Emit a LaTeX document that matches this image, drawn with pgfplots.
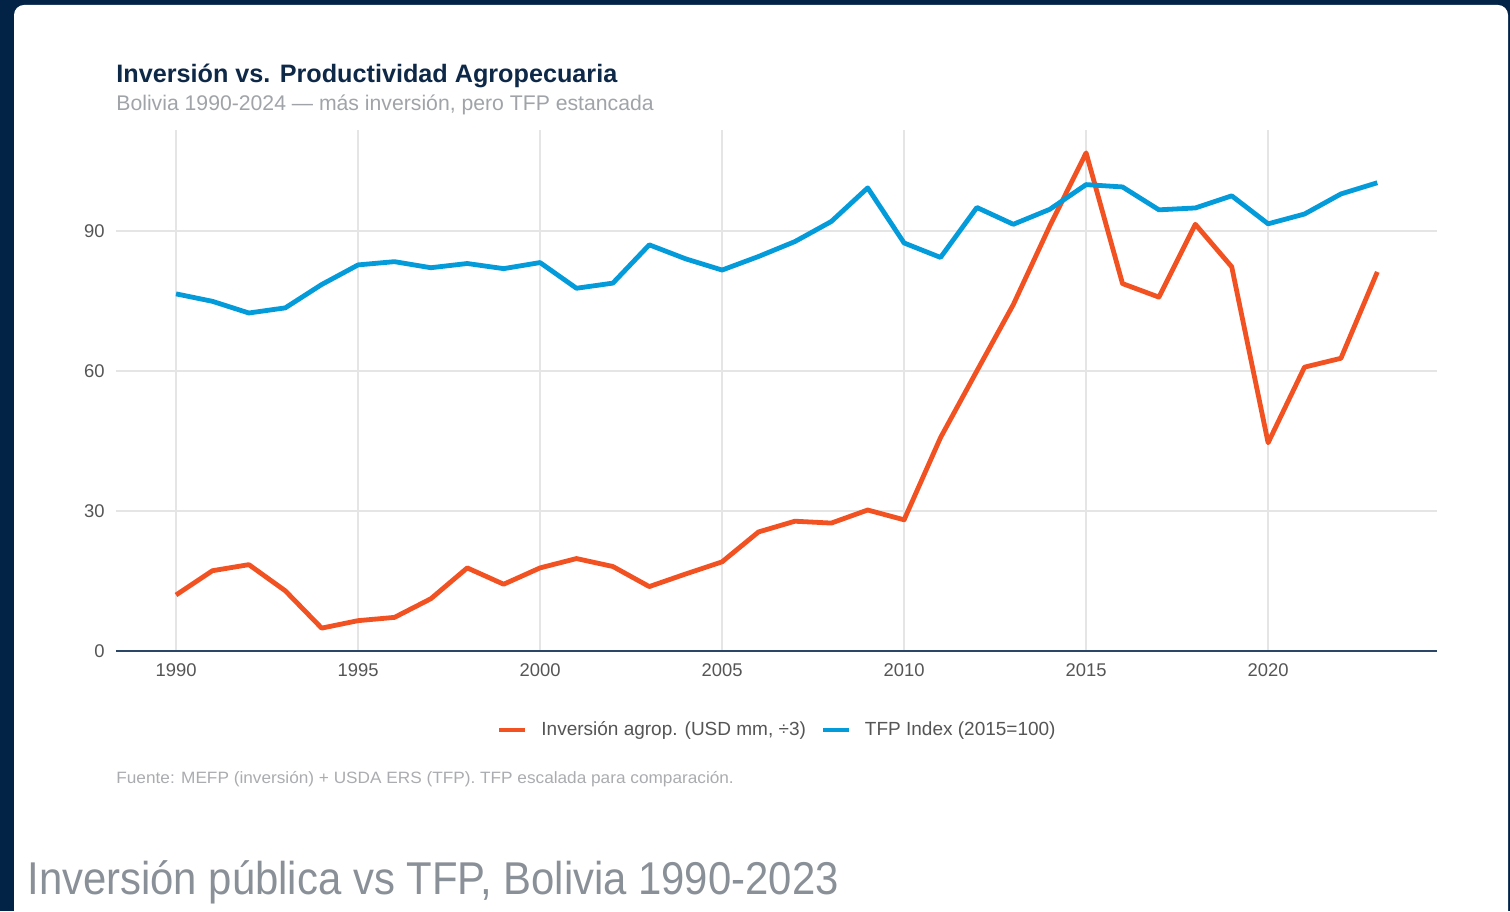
\documentclass[border=0pt]{standalone}
\usepackage{fontspec}
\setmainfont{Liberation Sans}
\usepackage{graphicx}
\usepackage{pgfplots}
\pgfplotsset{compat=1.18}
\definecolor{navybg}{RGB}{2,34,70}
\definecolor{titlec}{RGB}{14,40,72}
\definecolor{subc}{RGB}{160,164,168}
\definecolor{tickc}{RGB}{85,85,85}
\definecolor{srcc}{RGB}{170,172,175}
\definecolor{capc}{RGB}{138,144,151}
\definecolor{gridc}{RGB}{229,229,229}
\definecolor{axisc}{RGB}{44,70,104}
\definecolor{orangec}{RGB}{242,82,34}
\definecolor{bluec}{RGB}{4,155,218}
\begin{document}
\begin{tikzpicture}
\useasboundingbox (0pt,0pt) rectangle (755pt,455.5pt);
\fill[navybg] (0pt,0pt) rectangle (755pt,455.5pt);
\fill[white, rounded corners=5pt] (7pt,-20pt) rectangle (754pt,453pt);
\node[anchor=base west, inner sep=0pt, text=titlec, font=\bfseries\fontsize{12.6}{14}\selectfont] at (58pt,414pt) {Inversión vs. Productividad Agropecuaria};
\node[anchor=base west, inner sep=0pt, text=subc, font=\fontsize{10.6}{12}\selectfont] at (58pt,400pt) {Bolivia 1990-2024 — más inversión, pero TFP estancada};
\node[anchor=base west, inner sep=0pt, text=srcc, font=\fontsize{8.2}{10}\selectfont] at (58pt,64pt) {\scalebox{1.05}[1]{Fuente: MEFP (inversión) + USDA ERS (TFP). TFP escalada para comparación.}};
\node[anchor=base west, inner sep=0pt, text=capc, font=\fontsize{23}{26}\selectfont] at (13.5pt,8.5pt) {\scalebox{0.91}[1]{Inversión pública vs TFP, Bolivia 1990-2023}};
\begin{axis}[
  at={(58pt,130pt)}, anchor=south west,
  scale only axis, width=660.5pt, height=260.5pt,
  xmin=1988.35, xmax=2024.64, ymin=0, ymax=111.6,
  xtick={1990,1995,2000,2005,2010,2015,2020},
  ytick={0,30,60,90},
  major tick length=0pt,
  grid=major,
  major grid style={gridc, line width=0.75pt},
  axis x line*=bottom, axis y line*=left,
  x axis line style={axisc, line width=1.3pt, -},
  y axis line style={draw=none},
  tick label style={text=tickc, font=\fontsize{9.2}{10}\selectfont},
  xticklabel style={inner sep=0pt, yshift=-6pt},
  yticklabel style={inner sep=0pt, xshift=-5.5pt},
  /pgf/number format/assume math mode=true,
  /pgf/number format/1000 sep={},
  clip=false,
  legend columns=2,
  legend style={at={(0.5,-0.152)}, anchor=center, draw=none, fill=none,
    font=\fontsize{9.5}{11}\selectfont, text=tickc,
    /tikz/every odd column/.append style={column sep=7pt},
    /tikz/every even column/.append style={column sep=7.5pt},
    nodes={inner sep=0pt}},
  legend image code/.code={\draw[#1, line width=2pt] (0pt,0pt) -- (13pt,0pt);},
]
\addplot[orangec, line width=2.4pt, line join=round] coordinates {
(1990,12.0) (1991,17.2) (1992,18.5) (1993,12.9) (1994,4.9) (1995,6.5)
(1996,7.2) (1997,11.2) (1998,17.8) (1999,14.3) (2000,17.8) (2001,19.8)
(2002,18.1) (2003,13.8) (2004,16.5) (2005,19.1) (2006,25.5) (2007,27.8)
(2008,27.4) (2009,30.2) (2010,28.1) (2011,45.7) (2012,60.0) (2013,74.2)
(2014,91.0) (2015,106.7) (2016,78.7) (2017,75.8) (2018,91.4) (2019,82.3)
(2020,44.6) (2021,60.8) (2022,62.7) (2023,81.2)};
\addlegendentry{Inversión agrop. (USD mm, ÷3)}
\addplot[bluec, line width=2.4pt, line join=round] coordinates {
(1990,76.5) (1991,74.9) (1992,72.4) (1993,73.5) (1994,78.5) (1995,82.7)
(1996,83.4) (1997,82.1) (1998,83.0) (1999,81.9) (2000,83.2) (2001,77.7)
(2002,78.8) (2003,87.0) (2004,84.0) (2005,81.6) (2006,84.5) (2007,87.7)
(2008,92.0) (2009,99.2) (2010,87.4) (2011,84.3) (2012,95.0) (2013,91.4)
(2014,94.6) (2015,99.9) (2016,99.4) (2017,94.5) (2018,94.9) (2019,97.5)
(2020,91.5) (2021,93.6) (2022,97.9) (2023,100.3)};
\addlegendentry{TFP Index (2015=100)}
\end{axis}
\end{tikzpicture}
\end{document}
